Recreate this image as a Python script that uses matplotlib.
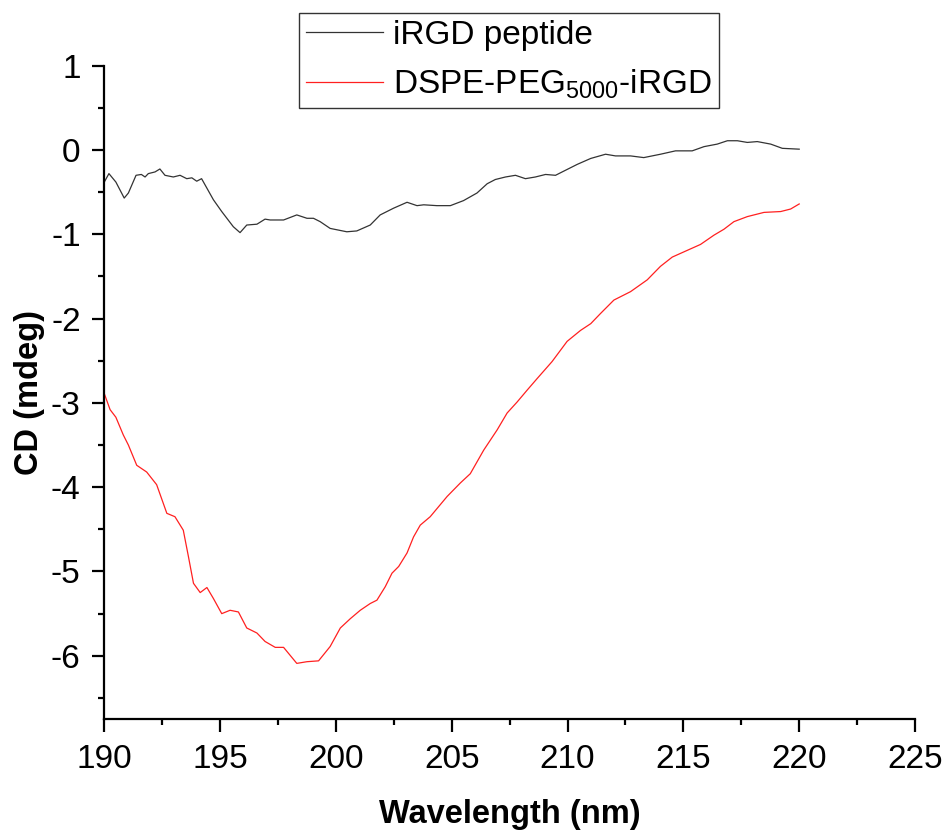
import numpy as np
import matplotlib
matplotlib.use('Agg')
import matplotlib.pyplot as plt
from matplotlib.ticker import MultipleLocator

plt.rcParams['font.family'] = ['Liberation Sans', 'DejaVu Sans']
plt.rcParams['mathtext.default'] = 'regular'
plt.rcParams['axes.unicode_minus'] = False

# iRGD peptide spectrum
wl_peptide = [190.0, 190.2, 190.5, 190.86, 191.04, 191.37, 191.6, 191.76, 191.9, 192.19, 192.4,
              192.62, 192.98, 193.27, 193.56, 193.78, 193.99, 194.2, 194.71, 195.07, 195.57,
              195.86, 196.15, 196.59, 196.94, 197.16, 197.74, 198.31, 198.75, 199.03, 199.32,
              199.75, 200.47, 200.9, 201.48, 201.91, 202.49, 203.07, 203.5, 203.79, 204.36,
              204.94, 205.51, 206.09, 206.53, 206.88, 207.32, 207.75, 208.18, 208.61, 209.05,
              209.48, 209.84, 210.42, 211.0, 211.64, 212.07, 212.72, 213.29, 214.01, 214.66,
              215.38, 215.89, 216.46, 216.9, 217.33, 217.76, 218.19, 218.77, 219.27, 220.0]
cd_peptide = [-0.38, -0.28, -0.38, -0.57, -0.51, -0.30, -0.29, -0.32, -0.28, -0.26, -0.225,
              -0.30, -0.32, -0.30, -0.34, -0.33, -0.37, -0.34, -0.59, -0.73, -0.91,
              -0.98, -0.89, -0.88, -0.82, -0.83, -0.83, -0.77, -0.81, -0.81, -0.85,
              -0.93, -0.97, -0.96, -0.89, -0.77, -0.69, -0.62, -0.66, -0.65, -0.66,
              -0.66, -0.60, -0.51, -0.40, -0.35, -0.32, -0.30, -0.34, -0.32, -0.29,
              -0.30, -0.25, -0.17, -0.10, -0.05, -0.07, -0.07, -0.09, -0.05, -0.01,
              -0.01, 0.04, 0.07, 0.11, 0.11, 0.09, 0.10, 0.07, 0.02, 0.01]

# DSPE-PEG5000-iRGD spectrum
wl_conj = [190.0, 190.25, 190.5, 190.82, 191.04, 191.4, 191.83, 192.26, 192.7, 193.05, 193.41,
           193.63, 193.85, 194.14, 194.43, 194.71, 195.07, 195.43, 195.79, 196.15, 196.59,
           196.94, 197.38, 197.74, 198.31, 198.75, 199.25, 199.75, 200.19, 200.62, 201.05,
           201.48, 201.77, 202.13, 202.42, 202.71, 203.07, 203.35, 203.64, 204.07, 204.8,
           205.37, 205.8, 206.38, 206.96, 207.39, 207.82, 208.25, 208.69, 209.33, 209.98,
           210.56, 211.0, 211.42, 212.0, 212.72, 213.44, 214.01, 214.52, 215.17, 215.74,
           216.32, 216.75, 217.18, 217.76, 218.48, 219.2, 219.63, 220.0]
cd_conj = [-2.89, -3.08, -3.17, -3.38, -3.50, -3.74, -3.82, -3.97, -4.31, -4.35, -4.51,
           -4.82, -5.14, -5.25, -5.19, -5.32, -5.50, -5.46, -5.48, -5.67, -5.73,
           -5.83, -5.90, -5.90, -6.09, -6.07, -6.06, -5.89, -5.67, -5.56, -5.46,
           -5.38, -5.34, -5.18, -5.02, -4.94, -4.78, -4.59, -4.45, -4.35, -4.11,
           -3.95, -3.84, -3.56, -3.32, -3.12, -2.99, -2.85, -2.71, -2.51, -2.27,
           -2.14, -2.06, -1.94, -1.78, -1.68, -1.54, -1.38, -1.27, -1.19, -1.12,
           -1.01, -0.94, -0.85, -0.79, -0.74, -0.73, -0.70, -0.64]

fig = plt.figure(figsize=(9.49, 8.35), dpi=100)
ax = fig.add_axes([0.1099, 0.1389, 0.8543, 0.7824])

ax.plot(wl_peptide, cd_peptide, color='#333333', lw=0.9, label='iRGD peptide')
ax.plot(wl_conj, cd_conj, color='#ff2020', lw=0.9, label='DSPE-PEG$_{5000}$-iRGD')

ax.set_xlim(190, 225)
ax.set_ylim(-6.75, 1)
ax.xaxis.set_major_locator(MultipleLocator(5))
ax.xaxis.set_minor_locator(MultipleLocator(2.5))
ax.yaxis.set_major_locator(MultipleLocator(1))
ax.yaxis.set_minor_locator(MultipleLocator(0.5))

for side in ['top', 'right']:
    ax.spines[side].set_visible(False)
for side in ['left', 'bottom']:
    ax.spines[side].set_linewidth(1.6)

ax.tick_params(which='major', direction='out', length=9, width=1.6, labelsize=24)
ax.tick_params(axis='y', which='major', pad=8)
ax.tick_params(axis='x', which='major', pad=9)
ax.tick_params(which='minor', direction='out', length=4.5, width=1.6)

ax.set_xlabel('Wavelength (nm)', fontsize=23.5, fontweight='bold', labelpad=17)
ax.set_ylabel('CD (mdeg)', fontsize=23.5, fontweight='bold', labelpad=4)

leg = ax.legend(loc='upper left', bbox_to_anchor=(0.315, 0.985), bbox_transform=fig.transFigure,
                fontsize=24, frameon=True, fancybox=False, handlelength=2.3,
                handletextpad=0.3, borderpad=0.22, labelspacing=0.5, borderaxespad=0)
leg.get_frame().set_edgecolor('black')
leg.get_frame().set_linewidth(1.0)

fig.savefig('out.png', dpi=100)
